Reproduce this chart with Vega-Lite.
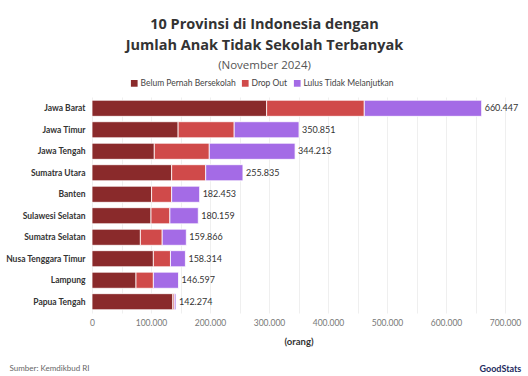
{
  "$schema": "https://vega.github.io/schema/vega-lite/v6.json",
  "width": 413,
  "height": 216,
  "autosize": {"type": "none"},
  "padding": {"left": 92, "top": 97, "right": 23, "bottom": 63},
  "background": "white",
  "title": {
    "text": ["10 Provinsi di Indonesia dengan", "Jumlah Anak Tidak Sekolah Terbanyak"],
    "subtitle": "(November 2024)",
    "anchor": "middle",
    "dx": -34,
    "offset": 7,
    "font": "Open Sans",
    "fontSize": 14.5,
    "fontWeight": "bold",
    "color": "#333333",
    "lineHeight": 21,
    "subtitleFont": "Open Sans",
    "subtitleFontSize": 11.5,
    "subtitleColor": "#555555",
    "subtitlePadding": 6
  },
  "data": {
    "values": [
      {"provinsi": "Jawa Barat", "kategori": "Belum Pernah Bersekolah", "jumlah": 296000},
      {"provinsi": "Jawa Barat", "kategori": "Drop Out", "jumlah": 165500},
      {"provinsi": "Jawa Barat", "kategori": "Lulus Tidak Melanjutkan", "jumlah": 198947},
      {"provinsi": "Jawa Timur", "kategori": "Belum Pernah Bersekolah", "jumlah": 146000},
      {"provinsi": "Jawa Timur", "kategori": "Drop Out", "jumlah": 95000},
      {"provinsi": "Jawa Timur", "kategori": "Lulus Tidak Melanjutkan", "jumlah": 109851},
      {"provinsi": "Jawa Tengah", "kategori": "Belum Pernah Bersekolah", "jumlah": 105600},
      {"provinsi": "Jawa Tengah", "kategori": "Drop Out", "jumlah": 93200},
      {"provinsi": "Jawa Tengah", "kategori": "Lulus Tidak Melanjutkan", "jumlah": 145413},
      {"provinsi": "Sumatra Utara", "kategori": "Belum Pernah Bersekolah", "jumlah": 135000},
      {"provinsi": "Sumatra Utara", "kategori": "Drop Out", "jumlah": 57700},
      {"provinsi": "Sumatra Utara", "kategori": "Lulus Tidak Melanjutkan", "jumlah": 63135},
      {"provinsi": "Banten", "kategori": "Belum Pernah Bersekolah", "jumlah": 101000},
      {"provinsi": "Banten", "kategori": "Drop Out", "jumlah": 34000},
      {"provinsi": "Banten", "kategori": "Lulus Tidak Melanjutkan", "jumlah": 47453},
      {"provinsi": "Sulawesi Selatan", "kategori": "Belum Pernah Bersekolah", "jumlah": 100000},
      {"provinsi": "Sulawesi Selatan", "kategori": "Drop Out", "jumlah": 32000},
      {"provinsi": "Sulawesi Selatan", "kategori": "Lulus Tidak Melanjutkan", "jumlah": 48159},
      {"provinsi": "Sumatra Selatan", "kategori": "Belum Pernah Bersekolah", "jumlah": 82000},
      {"provinsi": "Sumatra Selatan", "kategori": "Drop Out", "jumlah": 37000},
      {"provinsi": "Sumatra Selatan", "kategori": "Lulus Tidak Melanjutkan", "jumlah": 40866},
      {"provinsi": "Nusa Tenggara Timur", "kategori": "Belum Pernah Bersekolah", "jumlah": 104000},
      {"provinsi": "Nusa Tenggara Timur", "kategori": "Drop Out", "jumlah": 29000},
      {"provinsi": "Nusa Tenggara Timur", "kategori": "Lulus Tidak Melanjutkan", "jumlah": 25314},
      {"provinsi": "Lampung", "kategori": "Belum Pernah Bersekolah", "jumlah": 74600},
      {"provinsi": "Lampung", "kategori": "Drop Out", "jumlah": 29400},
      {"provinsi": "Lampung", "kategori": "Lulus Tidak Melanjutkan", "jumlah": 42597},
      {"provinsi": "Papua Tengah", "kategori": "Belum Pernah Bersekolah", "jumlah": 137000},
      {"provinsi": "Papua Tengah", "kategori": "Drop Out", "jumlah": 2500},
      {"provinsi": "Papua Tengah", "kategori": "Lulus Tidak Melanjutkan", "jumlah": 2774}
    ]
  },
  "encoding": {
    "y": {
      "field": "provinsi",
      "type": "nominal",
      "sort": ["Jawa Barat", "Jawa Timur", "Jawa Tengah", "Sumatra Utara", "Banten", "Sulawesi Selatan", "Sumatra Selatan", "Nusa Tenggara Timur", "Lampung", "Papua Tengah"],
      "scale": {"paddingInner": 0.25, "paddingOuter": 0.15}
    }
  },
  "layer": [
    {
      "mark": {"type": "bar", "stroke": "white", "strokeWidth": 0.8},
      "encoding": {
        "x": {
          "field": "jumlah",
          "type": "quantitative",
          "stack": "zero",
          "scale": {"domain": [0, 700000], "nice": false},
          "axis": {
            "orient": "bottom",
            "values": [0, 50000, 100000, 150000, 200000, 250000, 300000, 350000, 400000, 450000, 500000, 550000, 600000, 650000, 700000],
            "labelExpr": "datum.value % 100000 === 0 ? replace(format(datum.value, ','), ',', '.') : ''",
            "labelFlush": false,
            "labelOverlap": false,
            "title": "(orang)",
            "titleFont": "Lato",
            "titleFontSize": 9.5,
            "titleFontWeight": "bold",
            "titleColor": "#333333",
            "titlePadding": 10,
            "labelFont": "Lato",
            "labelFontSize": 8.5,
            "labelColor": "#777777",
            "labelPadding": 5,
            "ticks": false,
            "domain": false,
            "grid": true,
            "gridColor": "#ebebeb",
            "gridWidth": 0.8
          }
        },
        "y": {
          "field": "provinsi",
          "type": "nominal",
          "sort": ["Jawa Barat", "Jawa Timur", "Jawa Tengah", "Sumatra Utara", "Banten", "Sulawesi Selatan", "Sumatra Selatan", "Nusa Tenggara Timur", "Lampung", "Papua Tengah"],
          "axis": {
            "title": null,
            "ticks": false,
            "domain": false,
            "labelFont": "Lato",
            "labelFontSize": 8.5,
            "labelFontWeight": "bold",
            "labelColor": "#333333",
            "labelPadding": 7
          }
        },
        "color": {
          "field": "kategori",
          "type": "nominal",
          "scale": {
            "domain": ["Belum Pernah Bersekolah", "Drop Out", "Lulus Tidak Melanjutkan"],
            "range": ["#8a2a2b", "#d04a4a", "#a46be6"]
          },
          "legend": {
            "title": null,
            "orient": "none",
            "direction": "horizontal",
            "legendX": 38,
            "legendY": -18,
            "symbolType": "square",
            "symbolSize": 45,
            "symbolStrokeWidth": 0,
            "labelFont": "Lato",
            "labelFontSize": 8.5,
            "labelColor": "#444444",
            "labelOffset": 2,
            "columnPadding": 5
          }
        }
      }
    },
    {
      "transform": [
        {"aggregate": [{"op": "sum", "field": "jumlah", "as": "total"}], "groupby": ["provinsi"]}
      ],
      "mark": {"type": "text", "align": "left", "baseline": "middle", "dx": 3, "font": "Lato", "fontSize": 9, "color": "#333333"},
      "encoding": {
        "x": {
          "field": "total",
          "type": "quantitative",
          "axis": {
            "orient": "bottom",
            "labels": false,
            "ticks": false,
            "domain": false,
            "grid": false,
            "title": "Sumber: Kemdikbud RI",
            "titleAnchor": "start",
            "titleAlign": "left",
            "titleBaseline": "middle",
            "titleX": -83,
            "titleY": 55,
            "titleFont": "Lato",
            "titleFontSize": 8,
            "titleFontWeight": "normal",
            "titleColor": "#666666"
          }
        },
        "y": {
          "field": "provinsi",
          "type": "nominal",
          "sort": ["Jawa Barat", "Jawa Timur", "Jawa Tengah", "Sumatra Utara", "Banten", "Sulawesi Selatan", "Sumatra Selatan", "Nusa Tenggara Timur", "Lampung", "Papua Tengah"],
          "axis": {
            "orient": "right",
            "labels": false,
            "ticks": false,
            "domain": false,
            "grid": false,
            "title": "GoodStats",
            "titleAngle": 0,
            "titleAlign": "left",
            "titleBaseline": "middle",
            "titleX": -26,
            "titleY": 271,
            "titleFont": "Lato",
            "titleFontSize": 9,
            "titleFontWeight": "bold",
            "titleColor": "#1d2b5e"
          }
        },
        "text": {"field": "total", "type": "quantitative", "format": ","}
      }
    }
  ],
  "resolve": {"axis": {"x": "independent", "y": "independent"}},
  "config": {
    "locale": {"number": {"decimal": ",", "thousands": ".", "grouping": [3], "currency": ["", ""]}},
    "view": {"stroke": null},
    "font": "Lato"
  }
}
